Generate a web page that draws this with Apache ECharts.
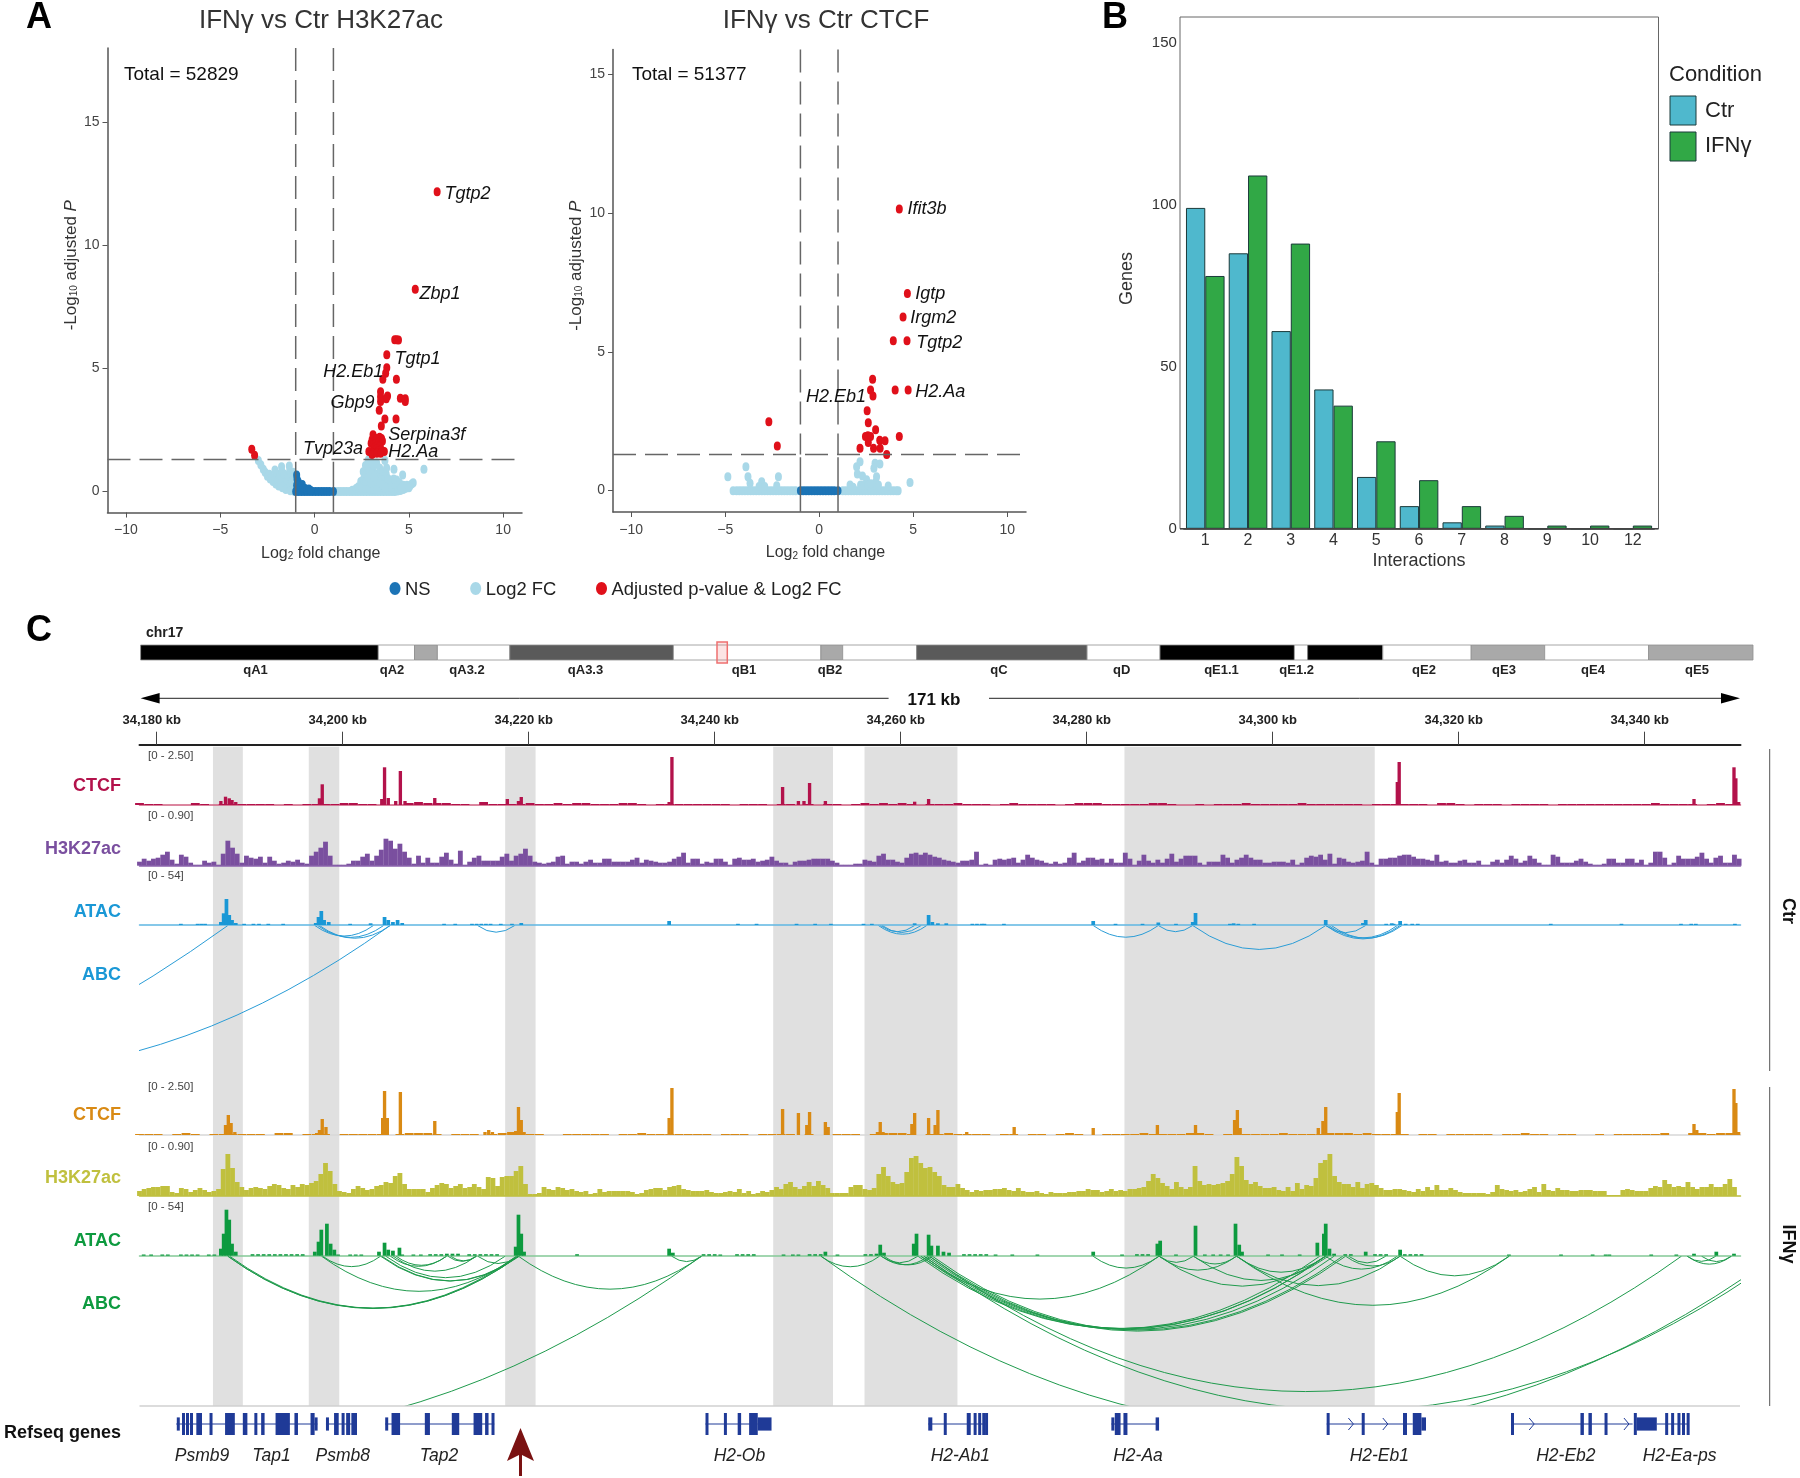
<!DOCTYPE html>
<html>
<head>
<meta charset="utf-8">
<title>Figure</title>
<script src="https://cdn.jsdelivr.net/npm/echarts@6/dist/echarts.min.js"></script>
<style>
html,body{margin:0;padding:0;background:#fff;}
#main{width:1800px;height:1478px;}
</style>
</head>
<body>
<div id="main"></div>
<script>
/* ---------- A: volcano data [log2FC, -log10 padj] ---------- */
var h3LightPts = [[-2.98,1.25],[-2.85,1.08],[-2.72,0.9],[-2.62,0.78],[-2.5,0.62],[-2.4,0.7],[-2.35,0.5],[-2.25,0.55],[-2.2,0.4],[-2.1,0.87],[-2.1,0.6],[-2.05,0.3],[-2,0.72],[-1.95,0.45],[-1.9,0.22],[-1.85,0.6],[-1.8,0.35],[-1.75,1.0],[-1.72,0.8],[-1.7,0.15],[-1.65,0.5],[-1.6,0.7],[-1.55,0.28],[-1.52,0.08],[-1.45,0.45],[-1.4,0.62],[-1.34,1.03],[-1.32,0.82],[-1.3,0.2],[-1.28,0.03],[-1.25,0.62],[-1.2,0.42],[-1.15,0.78],[-1.12,0.02],[-1.1,0.25],[-1.05,0.55],[-1.02,0.03],
  [1.1,0],[1.25,0],[1.4,0],[1.55,0],[1.7,0],[1.85,0],[2,0],[2.15,0],[2.3,0],[2.45,0],[2.6,0],[2.75,0],[2.9,0],[3.05,0],[3.2,0],[3.35,0],[3.5,0],[3.65,0],[3.8,0],[3.95,0],[4.1,0],[4.25,0],[4.4,0.02],[4.55,0.04],[4.7,0.08],[4.9,0.15],[5.05,0.22],[5.15,0.3],[5.23,0.35],
  [2.0,0.05],[2.2,0.12],[2.32,0.19],[2.45,0.4],[2.58,0.8],[2.6,0.5],[2.7,1.05],[2.75,0.7],[2.8,0.3],[2.85,1.27],[2.9,0.9],[2.95,0.55],[3.0,1.15],[3.05,0.2],[3.1,0.8],[3.15,1.05],[3.2,0.45],[3.29,1.15],[3.3,0.7],[3.4,0.25],[3.45,0.95],[3.5,0.55],[3.6,0.8],[3.62,0.15],[3.7,0.4],[3.73,1.25],[3.8,0.7],[3.82,0.95],[3.9,0.2],[4,0.46],[4.05,0.15],[4.21,0.9],[4.35,0.46],[4.4,0.12],[4.5,0.2],[4.67,0.67],[4.5,0.08],[5.8,0.9],[2.5,0.15],[2.7,0.12],[2.9,0.1],[3.1,0.1],[3.3,0.1],[3.6,0.45],[2.7,0.4],[2.85,0.6],[3.0,0.35],[3.15,0.6],[3.3,0.4],[3.45,0.35],[3.6,0.25],[3.75,0.15],
  [4.1,0.3],[4.25,0.3],[4.5,0.35],[4.7,0.25],[4.9,0.25],[4.2,0.5],[4.6,0.15],[3.9,0.5],[4.8,0.12],[5,0.15]];
var h3NsPts = [[-1,0],[-0.85,0],[-0.7,0],[-0.55,0],[-0.4,0],[-0.25,0],[-0.1,0],[0.05,0],[0.2,0],[0.35,0],[0.5,0],[0.65,0],[0.8,0],[1,0],[-0.95,0.67],[-0.93,0.5],[-0.87,0.4],[-0.95,0.25],[-0.8,0.28],[-0.75,0.2],[-0.65,0.28],[-0.6,0.15],[-0.5,0.12],[-0.4,0.08],[-0.3,0.1],[-0.2,0.04]];
var h3SigPts = [[6.5,12.16],[5.34,8.2],[4.25,6.16],[4.35,6.16],[4.45,6.14],[3.83,5.55],[3.83,5.02],[3.77,4.8],[3.62,4.55],[4.34,4.55],[3.5,4.04],[3.5,3.84],[3.87,3.87],[3.8,3.76],[3.5,3.65],[4.55,3.78],[4.81,3.76],[4.81,3.65],[3.43,3.29],[3.73,2.94],[4.32,2.94],[3.54,2.65],
  [3.1,2.3],[3.15,2.2],[3.05,2.1],[3.2,2.05],[3.3,2.15],[3.45,2.2],[3.55,2.15],[3.0,1.95],[3.12,1.9],[3.25,1.95],[3.4,2.0],[3.5,1.95],[3.6,2.05],[3.2,1.8],[3.35,1.85],[3.45,1.8],[3.15,1.7],[3.3,1.72],[2.88,1.62],[3.0,1.6],[3.1,1.55],[3.4,1.65],[3.55,1.68],[3.7,1.62],[3.05,1.5],[3.3,1.55],[3.5,1.55],[-3.33,1.71],[-3.18,1.47]];
var ctcfLightPts = [[-4.58,0],[-4.4,0],[-4.25,0],[-4.1,0],[-3.95,0],[-3.8,0],[-3.65,0],[-3.5,0],[-3.35,0],[-3.2,0],[-3.05,0],[-2.9,0],[-2.75,0],[-2.6,0],[-2.45,0],[-2.3,0],[-2.15,0],[-2,0],[-1.85,0],[-1.7,0],[-1.55,0],[-1.4,0],[-1.25,0],[1.25,0],[1.4,0],[1.55,0],[1.7,0],[1.85,0],[2,0],[2.15,0],[2.3,0],[2.45,0],[2.6,0],[2.75,0],[2.9,0],[3.05,0],[3.2,0],[3.35,0],[3.5,0],[3.65,0],[3.8,0],[3.95,0],[4.1,0],[4.2,0],
  [-4.86,0.5],[-3.9,0.86],[-3.79,0.5],[-3.68,0.27],[-3.06,0.32],[-3.2,0.15],[-2.9,0.15],[-2.17,0.5],[-2.26,0.18],[2.17,1.04],[1.99,0.86],[2.03,0.6],[2.3,0.53],[2.97,0.99],[3.23,0.96],[2.91,0.81],[3.05,0.5],[2.52,0.39],[2.2,0.2],[2.9,0.2],[3.0,0.3],[3.67,0.17],[4.83,0.29],[1.64,0.2],[2.4,0.2],[2.6,0.2],[2.75,0.25],[3.15,0.2],[1.8,0.12]];
var ctcfNsPts = [[-1,0],[-0.85,0],[-0.7,0],[-0.55,0],[-0.4,0],[-0.25,0],[-0.1,0],[0.05,0],[0.2,0],[0.35,0],[0.5,0],[0.65,0],[0.8,0],[1,0]];
var ctcfSigPts = [[4.26,10.15],[4.69,7.1],[4.46,6.26],[3.94,5.4],[4.67,5.4],[2.84,4.01],[2.73,3.63],[2.86,3.41],[4.04,3.63],[4.73,3.63],[2.55,2.88],[2.61,2.45],[3.0,2.19],[2.46,1.95],[2.59,1.98],[2.73,1.95],[2.61,1.73],[3.22,1.82],[3.5,1.8],[4.26,1.95],[2.17,1.53],[2.89,1.53],[3.24,1.53],[3.59,1.3],[-2.68,2.48],[-2.23,1.61]];
var fcCut = [-1, 1];
var padjCut = 1.3;
var xTicks = [-10, -5, 0, 5, 10];
var h3YTicks = [0, 5, 10, 15];

/* ---------- B: genes per number of interactions ---------- */
var interactions = ['1','2','3','4','5','6','7','8','9','10','12'];
var ctrGenes = [99,85,61,43,16,7,2,1,0,0,0];
var ifnGenes = [78,109,88,38,27,15,7,4,1,1,1];
var geneTicks = [0, 50, 100, 150];

/* ---------- C: browser tracks. x = kb after 34,180 kb, heights in track units (0-55) ---------- */
var kbOrigin = 34180;
var kbTicks = [34180,34200,34220,34240,34260,34280,34300,34320,34340];
var shadeBands = [[6.05,9.26],[16.35,19.63],[37.47,40.74],[66.29,72.72],[76.11,86.1],[104.06,130.97]];
var bandEdges = [0,237.7,273.9,296.8,369.2,532.8,680.3,702.1,776,946.5,1019.4,1153.8,1167,1242.2,1330.6,1404.1,1508,1612.4];
var bandStains = ['k','w','g','w','d','w','g','w','d','w','k','w','k','w','g','w','g'];

// H3K27ac, 0.5 kb bins from -1.85 kb
var h3Ctr = [4,7,5,7,8,11,14,6,2,11,9,3,1,1,5,3,4,1,12,25,
 18,12,3,10,8,7,9,3,9,5,2,3,5,4,6,3,2,10,14,18,
 24,10,1,1,1,2,5,5,9,12,5,10,16,27,25,17,22,14,8,2,
 10,3,8,3,3,9,13,6,2,15,1,4,8,10,5,5,5,5,9,12,
 5,10,12,17,10,4,3,2,3,4,9,10,2,4,4,2,4,6,3,3,
 7,7,4,4,4,4,6,8,3,6,5,4,3,3,4,7,9,13,3,7,
 7,2,4,3,7,7,4,1,7,8,6,6,7,4,5,6,9,5,3,3,
 1,4,5,5,6,7,7,7,7,5,3,1,1,1,2,2,6,5,4,10,
 12,6,6,4,3,8,12,13,11,13,11,9,8,6,5,4,3,5,5,6,
 14,1,2,1,6,7,6,7,8,3,6,11,8,6,5,3,2,4,2,3,
 8,13,3,5,8,8,6,7,3,7,3,3,13,7,1,5,11,5,3,6,
 3,7,12,4,7,10,10,10,3,1,4,4,4,11,8,3,6,8,11,8,
 6,6,3,3,4,4,4,3,6,1,3,8,10,9,11,6,12,2,8,7,
 4,3,4,5,14,3,1,7,7,8,8,10,11,11,9,7,7,6,5,11,
 4,5,3,3,5,6,3,3,5,1,1,4,6,3,6,10,7,3,5,10,
 7,3,1,1,11,9,3,3,3,5,7,4,2,1,1,2,7,7,3,3,
 7,7,3,6,1,3,14,14,8,1,3,10,7,7,7,9,13,7,3,8,
 10,3,3,11,7];
var h3Ifn = [5,7,8,9,9,10,10,4,3,8,7,4,6,8,6,4,5,7,27,42,
 28,14,9,6,8,9,8,7,10,12,11,8,7,11,9,12,11,13,15,22,
 33,25,12,5,4,3,7,10,8,6,7,10,11,14,13,20,23,12,7,7,
 7,7,4,8,11,13,12,8,10,12,8,9,12,9,7,19,18,10,19,20,
 20,25,30,12,2,2,3,9,7,6,9,8,6,7,5,4,5,2,3,7,
 4,5,5,5,5,5,4,2,3,6,7,8,8,6,9,10,11,7,6,5,
 5,5,6,4,3,3,4,5,4,7,3,5,2,3,5,4,6,9,7,12,
 14,9,7,10,14,10,15,11,8,3,3,3,3,9,11,11,7,6,8,22,
 29,20,14,12,13,24,38,40,33,28,29,24,20,11,9,9,12,8,6,4,
 6,5,6,6,7,7,8,6,5,8,5,4,4,5,3,2,4,3,3,3,
 4,4,5,5,7,6,6,4,5,7,5,6,5,7,7,8,9,15,22,18,
 13,10,7,14,9,7,9,30,15,11,12,11,12,13,15,22,39,30,16,12,
 14,10,8,8,9,6,5,9,5,13,7,11,10,18,33,36,42,20,14,12,
 12,9,14,8,12,13,11,8,6,6,7,7,6,5,4,7,5,9,6,11,
 6,6,8,6,4,3,3,3,3,3,2,4,11,7,6,5,6,4,5,7,
 9,4,12,6,5,8,6,6,5,5,6,6,6,5,5,5,1,1,1,6,
 7,6,5,5,5,8,10,9,16,12,9,10,9,14,9,7,9,9,12,9,
 9,12,17,9];

// CTCF background, 1 kb bins from -1.85 kb
var ctcfCtrBg = [2,1,1,0,0,0,2,1,0,1,1,1,1,1,1,0,1,0,1,1,
 1,1,2,2,1,1,0,0,0,2,3,2,2,2,1,1,0,3,1,1,
 1,1,2,1,1,2,1,2,2,1,1,1,2,2,1,0,1,1,1,1,
 1,1,1,1,0,1,1,1,0,1,1,0,1,0,1,1,0,1,2,1,
 2,1,2,1,0,1,1,1,2,1,1,1,0,1,2,1,1,1,1,0,
 1,2,2,2,1,1,1,1,1,2,2,1,0,0,1,0,1,1,1,2,
 1,1,1,1,1,2,1,1,1,1,1,1,0,1,1,1,1,1,1,0,
 2,2,1,0,1,1,1,0,1,1,1,1,0,1,1,1,1,1,1,1,
 1,1,1,2,1,1,1,1,0,1,2,1];
var ctcfIfnBg = [1,1,1,0,1,2,1,0,1,1,1,1,1,1,0,2,2,0,1,1,
 1,0,1,1,1,1,1,0,1,2,2,2,1,0,1,1,1,0,1,2,
 3,2,1,1,0,0,1,1,1,1,1,0,1,1,2,1,1,1,1,1,
 1,1,0,1,1,1,0,1,1,1,1,0,1,0,0,1,1,1,0,1,
 2,2,2,1,0,1,1,2,1,1,1,1,0,1,1,0,1,1,0,1,
 2,1,0,0,1,1,1,1,2,1,1,1,1,2,2,1,0,1,1,1,
 1,1,1,2,1,1,1,1,2,2,2,1,2,1,1,1,1,0,1,1,
 0,1,1,1,1,1,0,1,1,2,1,1,0,1,1,0,0,1,0,1,
 1,1,1,1,2,0,0,2,2,1,2,2];

// peaks: [kb, height]
var ctcfCtrPeaks = [[6.9,4],[7.4,8.3],[7.8,6.7],[8.1,5],[8.5,3],[17.5,6.7],[17.8,20.7],[24.2,6],[24.5,37.7],[24.9,7],[25.7,4],[26.2,34],[26.7,4],[29.9,7],[37.7,6],[38.9,4],[39.2,8],[55.1,3],[55.4,48],[67.3,18],[69,4],[69.6,4],[70.2,22],[71.9,4],[81.5,3.3],[83,6],[133.4,23],[133.6,43],[165.3,6],[169.6,37.7],[169.8,26.7],[170.1,3]];
var ctcfIfnPeaks = [[7.4,10],[7.7,20],[8,12],[8.4,3],[17.2,2],[17.5,5],[17.8,16],[18.2,8],[24.3,17],[24.5,44],[24.8,17],[26.2,43],[29.9,14],[35.3,3],[35.7,5],[36.1,3],[38.6,4],[38.9,28],[39.2,15],[39.5,3],[55.1,17],[55.4,47],[67.3,26],[69,22],[69.9,10],[70.2,23],[71.9,13],[72.2,8],[77.5,3],[77.8,13],[78.1,3],[81.2,11],[81.5,22],[83,17],[83.7,10],[84,25],[87.1,3],[92.2,8],[100.7,7],[107.6,10],[111.7,10],[115.9,15],[116.2,25],[116.5,7],[124.9,7],[125.4,14],[125.7,28],[133.4,23],[133.6,42],[165.3,11],[165.6,5],[169.6,46],[169.8,32],[170.1,3]];
var ataCtrPeaks = [[6.9,3],[7.2,11.7],[7.5,26],[7.8,10],[8.1,5],[8.5,2],[17.1,2],[17.4,8],[17.7,14],[18,5],[18.5,3],[23,1.7],[24.5,8],[24.9,5],[25.4,3],[25.9,5],[26.4,2],[39.2,2],[55.1,4],[81.5,1.7],[83,10],[83.4,3],[84,1.7],[84.9,1.7],[100.7,4],[107.7,2.5],[111.4,3],[111.7,12],[115.8,1.7],[125.7,5],[129.7,2],[130,5],[132.8,1.7],[133.7,4]];
var ataIfnPeaks = [[6.9,7],[7.2,22],[7.5,46],[7.8,36],[8.1,12],[8.5,4],[17,4],[17.4,14],[17.7,26],[18.3,32],[18.7,12],[19.1,6],[23.9,4],[24.5,13],[24.9,6],[25.4,5],[26.1,8],[38.6,9],[38.9,41],[39.2,22],[39.5,4],[55.1,7],[55.5,3],[71.9,4],[77.4,2],[77.8,11],[78.2,3],[81.4,12],[81.7,22],[83,21],[83.3,10],[84,10],[84.6,4],[85.2,3],[100.7,4],[107.6,12],[107.9,15],[111.7,30],[116,32],[116.4,11],[116.7,4],[124.8,13],[125.5,22],[125.7,32],[126.1,7],[126.6,2],[130,4],[133.7,6],[165.3,2],[167.7,4],[169.6,2]];

// low ATAC ticks: [kb, height]
var ataCtrLow = [[4.4,1.2],[4.8,1.2],[5.2,1.2],[2.6,1.2],[9.4,1.2],[10.4,1.2],[11,1.2],[12,1.2],[13.6,1.2],[20.8,1.2],[30.9,1.2],[32.1,1.2],[33.9,1.2],[34.4,1.2],[34.9,1.2],[35.4,1.2],[35.9,1.2],[37,1.2],[38.2,1.2],[62.5,1.2],[64.5,1.2],[68.8,1.2],[70.8,1.2],[72.5,1.2],[76,1.2],[76.9,1.2],[87.7,1.2],[88.2,1.2],[88.7,1.2],[89,1.2],[91.1,1.2],[103.1,1.2],[106,1.2],[109.6,1.2],[115.4,1.2],[116.3,1.2],[118,1.2],[132.2,1.2],[133,1.2],[134.3,1.2],[135,1.2],[135.6,1.2],[149.9,1.2],[157.5,1.2],[163.9,1.2],[165,1.2],[165.5,1.2],[169.7,1.2]];
var ataIfnLow = [[-1.4,1.2],[-0.6,1.2],[0.6,1.2],[1.2,1.2],[2.6,1.2],[3.2,1.2],[3.8,1.2],[4.4,1.2],[5.6,1.2],[6.2,1.2],[10.3,1.5],[10.9,1.5],[11.5,1.5],[12.1,1.5],[12.7,1.5],[13.3,1.5],[13.9,1.5],[14.5,1.5],[15.1,1.5],[15.7,1.5],[19.5,1.2],[20.8,1.2],[21.4,1.2],[22,1.2],[26.4,1.2],[27.6,1.2],[28.4,1.2],[29.4,1.5],[30,1.5],[30.6,1.5],[31.2,2],[31.8,2],[32.4,2],[33.6,1.5],[34.2,1.5],[34.8,1.5],[35.4,1.5],[36,1.5],[36.6,1.5],[45.2,1.5],[58.8,1.5],[59.4,1.5],[60,1.5],[60.6,1.2],[62.4,1.5],[63,1.5],[63.6,1.5],[64.2,1.5],[67.4,1.2],[68.4,1.2],[69,1.2],[70.2,1.5],[70.8,1.5],[71.4,1.5],[73.2,1.2],[76.2,1.5],[76.8,1.5],[86.8,1.5],[87.4,1.5],[88,1.5],[88.6,1.5],[89.2,1.5],[90.2,1.2],[92,1.2],[94.7,1.2],[103.8,1.2],[105.4,1.5],[106,1.5],[106.6,1.5],[109.6,1.2],[112.7,1.2],[113.6,1.2],[114.4,1.2],[115.2,1.2],[119.5,1.2],[121,1.2],[122.9,1.2],[127.8,1.5],[128.4,1.5],[131,1.5],[131.6,1.5],[132.2,1.5],[134.2,1.5],[134.8,1.5],[135.4,1.5],[136,1.5],[145.4,1.2],[151,1.2],[154.4,1.2],[155.8,1.2],[156.2,1.2],[160.7,1.2],[163.4,1.2]];

// ABC loops, [left kb, right kb]. Two in each panel run off the left or the right edge
var abcCtr = [[-121,7.65],[-62.7,25.1],[17,23.3],[17.3,24.4],[17.5,25.1],[34.5,38.5],[77.6,82.8],[77.8,81.5],[78,82.2],[100.7,107.7],[107.7,111.4],[111.4,125.7],[125.7,130],[125.7,133.7],[126,133.4],[126.3,133.9]];
var abcIfn = [[7.65,38.7],[7.65,38.89],[7.84,38.89],[17.72,38.7],[17.84,24.07],[24.07,38.89],[24.2,39.01],[24.63,37.47],[25.43,34.38],[25.12,31.17],[25.74,31.17],[31.3,34.38],[31.6,34.38],[34.51,38.89],[38.89,58.58],[55.37,58.58],[-49,58.58],[71.42,77.72],[71.42,174],
 [77.9,81.85],[77.9,83],[78.2,83.4],[82.16,107.78],[100.68,107.78],[81.85,125.06],[82.16,125.68],[82.47,125.68],[82.78,126.6],[83.09,127.84],[83.4,127.53],[83.09,163.95],[82.5,174.6],[107.78,111.48],[107.78,116.11],[107.78,125.68],[111.48,116.11],[111.48,125.99],[116.11,125.68],[116.11,133.7],[116.11,145.43],[125.68,133.4],[127.84,133.7],[128.15,132.16],[133.7,145.43],[164.57,169.32],[164.57,167.65],[166.11,169.32]];

// Refseq: introns [from, to], exons [from, to, kind] kind 2 coding, 1 UTR
var geneIntrons = [[2.1,17.28],[18.2,21.54],[24.57,36.3],[59,64.6],[82.96,89.38],[102.65,107.78],[125.8,135.06],[145.62,158.7],[161.3,164.69]];
var geneExons = [[2.16,2.47,1],[2.72,2.9,2],[3.15,3.33,2],[3.58,3.83,2],[4.26,4.43,2],[4.55,4.69,2],[5.68,5.93,2],[7.35,8.4,2],[9.26,9.75,2],[10.5,10.74,2],[11.23,11.6,2],[12.78,14.32,2],[14.81,15.19,2],[16.54,16.98,2],[16.98,17.28,1],[18.2,18.52,1],[19.07,19.57,2],[19.88,20.19,2],[20.37,20.8,2],[20.93,21.54,2],
 [24.57,24.81,1],[25.25,26.17,2],[28.83,29.38,2],[31.73,32.53,2],[34.07,35,2],[35.31,35.68,2],[36,36.3,2],
 [59.01,59.26,2],[60.99,61.3,2],[62.47,62.84,2],[63.7,64.63,2],[64.63,66.11,1],
 [82.96,83.4,1],[84.63,84.94,2],[87.1,87.53,2],[87.84,88.09,2],[88.33,88.58,2],[88.77,89.01,2],[89.07,89.38,2],
 [102.65,102.9,1],[103.02,103.64,2],[103.95,104.38,2],[107.41,107.78,1],
 [125.8,126.11,2],[129.57,129.88,2],[134.01,134.44,2],[135.06,135.99,2],[135.99,136.48,1],
 [145.62,145.93,2],[153.09,153.46,2],[153.95,154.32,2],[155.68,155.99,2],
 [158.83,159.14,2],[159.14,161.3,1],[162.2,162.41,2],[162.84,163.15,2],[163.52,163.77,2],[164.01,164.26,2],[164.51,164.69,2]];
var geneChevrons = [128.46,132.16,147.9,158.09];

/* ---------- layout helpers ---------- */
var FONT = '"Liberation Sans", Arial, sans-serif';
var chart = echarts.init(document.getElementById('main'), null, {renderer: 'canvas'});
var grids = [], xAxes = [], yAxes = [], series = [], graphics = [];

function T(str, x, y, opt) {
    opt = opt || {};
    graphics.push({
        type: 'text', x: x, y: y, rotation: opt.rot || 0, z: 50, silent: true,
        style: {
            text: str, x: 0, y: 0,
            font: (opt.italic ? 'italic ' : '') + (opt.bold ? 'bold ' : '') + (opt.size || 14) + 'px ' + FONT,
            fill: opt.color || '#222',
            align: opt.align || 'left', verticalAlign: 'middle'
        }
    });
}
function addGrid(l, t, w, h, xa, ya) {
    var i = grids.length;
    grids.push({left: l, top: t, width: w, height: h, containLabel: false});
    xa.gridIndex = i; ya.gridIndex = i;
    xAxes.push(xa); yAxes.push(ya);
    return i;
}

/* ---------- A: volcano plots ---------- */
function volcano(box, xr, yr, yTicks, light, ns, sig) {
    var axisC = '#555';
    var i = addGrid(box[0], box[1], box[2], box[3], {
        type: 'value', min: xr[0], max: xr[1], splitLine: {show: false},
        axisLine: {lineStyle: {color: axisC, width: 1.5}, onZero: false},
        axisTick: {customValues: xTicks, length: 5, lineStyle: {color: axisC}},
        axisLabel: {customValues: xTicks, color: '#444', fontSize: 14, fontFamily: FONT, margin: 11,
            formatter: function (v) { return String(v).replace('-', '\u2212'); }},
        name: '{a|Log}{s|2}{a| fold change}', nameLocation: 'middle', nameGap: 33, nameMoveOverlap: false,
        nameTextStyle: {padding: [0, 0, 0, 12], rich: {a: {fontSize: 16, color: '#333', fontFamily: FONT}, s: {fontSize: 10, color: '#333', fontFamily: FONT, verticalAlign: 'bottom', padding: [6, 0, 0, 0]}}}
    }, {
        type: 'value', min: yr[0], max: yr[1], splitLine: {show: false},
        axisLine: {lineStyle: {color: axisC, width: 1.5}, onZero: false},
        axisTick: {customValues: yTicks, length: 5, lineStyle: {color: axisC}},
        axisLabel: {customValues: yTicks, color: '#444', fontSize: 14, fontFamily: FONT, margin: 8},
        name: '{a|-Log}{s|10}{a| adjusted }{i|P}', nameLocation: 'middle', nameGap: 28, nameMoveOverlap: false,
        nameTextStyle: {padding: [0, 0, 0, 30], rich: {a: {fontSize: 17, color: '#333', fontFamily: FONT}, s: {fontSize: 10, color: '#333', fontFamily: FONT, padding: [6, 0, 0, 0]}, i: {fontSize: 17, color: '#333', fontStyle: 'italic', fontFamily: FONT}}}
    });
    function pts(data, color, z) {
        series.push({type: 'scatter', xAxisIndex: i, yAxisIndex: i, data: data, symbol: 'circle', symbolSize: [7, 9],
            itemStyle: {color: color, opacity: 1}, z: z, silent: true});
    }
    pts(light, '#a9d8e8', 3);
    pts(ns, '#1c74b6', 4);
    pts(sig, '#e0101a', 5);
    function rule(data, dash) {
        series.push({type: 'line', xAxisIndex: i, yAxisIndex: i, data: data, showSymbol: false, silent: true, z: 6,
            lineStyle: {color: '#666', width: 1.5, type: dash}});
    }
    fcCut.forEach(function (c) {
        rule([[c, yr[1]], [c, padjCut]], [23, 9]);
        rule([[c, padjCut - 0.1], [c, yr[0]]], 'solid');
    });
    rule([[xr[0], padjCut], [xr[1], padjCut]], [23, 9]);
}
volcano([107.5, 47.9, 414.5, 464.6], [-10.98, 11], [-0.856, 18], h3YTicks, h3LightPts, h3NsPts, h3SigPts);
volcano([613, 49.4, 413, 462.6], [-10.97, 11], [-0.77, 15.9], h3YTicks, ctcfLightPts, ctcfNsPts, ctcfSigPts);

T('A', 26, 18, {bold: true, size: 36, color: '#000'});
T('IFN\u03b3 vs Ctr H3K27ac', 321, 21, {size: 26, color: '#333', align: 'center'});
T('IFN\u03b3 vs Ctr CTCF', 826, 21, {size: 26, color: '#333', align: 'center'});
T('Total = 52829', 124, 75, {size: 19, color: '#111'});
T('Total = 51377', 632, 75, {size: 19, color: '#111'});
var geneTagOpt = {italic: true, size: 18, color: '#111'};
[['Tgtp2',444.6,192.6],['Zbp1',419.6,292.6],['Tgtp1',394.6,358],['H2.Eb1',323.2,370.8],['Gbp9',330.4,402],['Serpina3f',388.2,434.2],['Tvp23a',302.9,448.2],['H2.Aa',388.2,451.4],
 ['Ifit3b',907.5,207.8],['Igtp',915.3,292.6],['Irgm2',910.2,317],['Tgtp2',916.3,341.6],['H2.Aa',915.3,391],['H2.Eb1',806,395.7]].forEach(function (t) {
    T(t[0], t[1], t[2] + 1, geneTagOpt);
});
// shared legend under A
[['NS',395,'#1c74b6'],['Log2 FC',475.7,'#a9d8e8'],['Adjusted p-value & Log2 FC',601.5,'#e0101a']].forEach(function (l) {
    graphics.push({type: 'ellipse', shape: {cx: l[1], cy: 588.5, rx: 5.5, ry: 6.5}, style: {fill: l[2]}, silent: true});
    T(l[0], l[1] + 10, 590, {size: 18.4, color: '#222'});
});

/* ---------- B: bars ---------- */
var bGrid = addGrid(1183.9, 17, 470.3, 511.8, {
    type: 'category', data: interactions,
    axisLine: {lineStyle: {color: '#333', width: 1.5}}, axisTick: {show: false},
    axisLabel: {color: '#333', fontSize: 16, fontFamily: FONT, margin: 4}
}, {
    type: 'value', min: 0, max: 157.9, splitLine: {show: false}, axisLine: {show: false}, axisTick: {show: false},
    axisLabel: {customValues: geneTicks, color: '#333', fontSize: 15, fontFamily: FONT, margin: 7}
});
function barSeries(vals, color) {
    series.push({type: 'bar', xAxisIndex: bGrid, yAxisIndex: bGrid, data: vals, barWidth: 19.3, barGap: 0, z: 3, silent: true,
        itemStyle: {color: color, borderColor: '#1b3a3a', borderWidth: 1}});
}
barSeries(ctrGenes, '#4fb8cd');
barSeries(ifnGenes, '#31a846');
graphics.push({type: 'rect', shape: {x: 1180, y: 17, width: 478.5, height: 511.8}, style: {fill: 'none', stroke: '#666', lineWidth: 1}, z: 40, silent: true});
graphics.push({type: 'line', shape: {x1: 1180, y1: 528.8, x2: 1658.5, y2: 528.8}, style: {stroke: '#444', lineWidth: 1.5}, z: 41, silent: true});
T('B', 1102, 18, {bold: true, size: 36, color: '#000'});
T('Interactions', 1419, 561, {size: 18, color: '#333', align: 'center'});
T('Genes', 1127, 278.5, {size: 18, color: '#333', align: 'center', rot: Math.PI / 2});
T('Condition', 1669, 75, {size: 22, color: '#222'});
graphics.push({type: 'rect', shape: {x: 1670, y: 96, width: 26, height: 29}, style: {fill: '#4fb8cd', stroke: '#1b3a3a', lineWidth: 1}, silent: true});
graphics.push({type: 'rect', shape: {x: 1670, y: 132, width: 26, height: 29}, style: {fill: '#31a846', stroke: '#1b3a3a', lineWidth: 1}, silent: true});
T('Ctr', 1705, 111, {size: 22, color: '#222'});
T('IFN\u03b3', 1705, 146, {size: 22, color: '#222'});

/* ---------- C: ideogram ---------- */
var stainColors = {k: '#000', d: '#5a5a5a', g: '#a9a9a9', w: '#fff'};
var ideo = addGrid(140.6, 645, 1612.4, 15, {type: 'value', min: 0, max: 1612.4, show: false}, {type: 'value', min: 0, max: 1, show: false});
series.push({
    type: 'custom', xAxisIndex: ideo, yAxisIndex: ideo, silent: true, z: 3,
    data: bandStains.map(function (s, i) { return [bandEdges[i], bandEdges[i + 1], i]; }),
    encode: {x: [0, 1]},
    renderItem: function (p, api) {
        var a = api.coord([api.value(0), 1]), b = api.coord([api.value(1), 0]);
        return {type: 'rect', shape: {x: a[0], y: a[1], width: b[0] - a[0], height: b[1] - a[1]},
            style: {fill: stainColors[bandStains[api.value(2)]], stroke: '#8f8f8f', lineWidth: 0.8}};
    }
});
T('C', 26, 631, {bold: true, size: 36, color: '#000'});
T('chr17', 146, 633, {bold: true, size: 14, color: '#222'});
[['qA1',255.5],['qA2',392],['qA3.2',467],['qA3.3',585.5],['qB1',744],['qB2',830],['qC',999],['qD',1121.6],['qE1.1',1221.5],['qE1.2',1296.7],['qE2',1424],['qE3',1504],['qE4',1593],['qE5',1697]].forEach(function (q) {
    T(q[0], q[1], 670, {bold: true, size: 13, color: '#222', align: 'center'});
});
graphics.push({type: 'rect', shape: {x: 717, y: 642, width: 10.3, height: 21}, style: {fill: 'rgba(240,120,120,0.2)', stroke: '#ee7070', lineWidth: 1.5}, z: 30, silent: true});
// 171 kb span arrow
graphics.push({type: 'line', shape: {x1: 150, y1: 698.3, x2: 888.6, y2: 698.3}, style: {stroke: '#222', lineWidth: 1}, silent: true});
graphics.push({type: 'line', shape: {x1: 989, y1: 698.3, x2: 1730, y2: 698.3}, style: {stroke: '#222', lineWidth: 1}, silent: true});
graphics.push({type: 'polygon', shape: {points: [[140.6, 698.3], [159.6, 693], [159.6, 703.6]]}, style: {fill: '#000'}, silent: true});
graphics.push({type: 'polygon', shape: {points: [[1740, 698.3], [1721, 693], [1721, 703.6]]}, style: {fill: '#000'}, silent: true});
T('171 kb', 934, 700, {bold: true, size: 17, color: '#111', align: 'center'});

/* ---------- C: genome axis, shading and tracks ---------- */
var kbMin = -1.85, kbMax = 170.3;
var trackLeft = 139.5, trackWidth = 1601;
function kbAxis(extra) {
    var a = {type: 'value', min: kbOrigin + kbMin, max: kbOrigin + kbMax, show: false, splitLine: {show: false}};
    for (var k in (extra || {})) a[k] = extra[k];
    return a;
}
function hiddenY(lo, hi, inv) { return {type: 'value', min: lo, max: hi, show: false, inverse: !!inv, splitLine: {show: false}}; }

addGrid(trackLeft, 744.7, trackWidth, 1, kbAxis({
    show: true, position: 'top',
    axisLine: {show: true, onZero: false, lineStyle: {color: '#222', width: 2}},
    axisTick: {customValues: kbTicks, length: 13, lineStyle: {color: '#444', width: 1}},
    axisLabel: {customValues: kbTicks, fontSize: 13, fontWeight: 'bold', color: '#222', fontFamily: FONT, margin: 18, padding: [0, 10, 0, 0],
        formatter: function (v) { return String(v).replace(/(\d\d)(\d{3})$/, '$1,$2') + ' kb'; }}
}), hiddenY(0, 1));

var shadeGrid = addGrid(trackLeft, 746.7, trackWidth, 659.3, kbAxis(), hiddenY(0, 1));
series.push({
    type: 'custom', xAxisIndex: shadeGrid, yAxisIndex: shadeGrid, silent: true, z: 0,
    data: shadeBands, encode: {x: [0, 1]},
    renderItem: function (p, api) {
        var a = api.coord([kbOrigin + api.value(0), 1]), b = api.coord([kbOrigin + api.value(1), 0]);
        return {type: 'rect', shape: {x: a[0], y: a[1], width: b[0] - a[0], height: b[1] - a[1]}, style: {fill: '#e0e0e0'}};
    }
});

function signal(g, data, widthKb, color) {
    series.push({
        type: 'custom', xAxisIndex: g, yAxisIndex: g, silent: true, z: 4,
        data: data, encode: {x: 0, y: 1},
        renderItem: function (p, api) {
            var kb = kbOrigin + api.value(0);
            var a = api.coord([kb - widthKb / 2, api.value(1)]), b = api.coord([kb + widthKb / 2, 0]);
            return {type: 'rect', shape: {x: a[0], y: a[1], width: b[0] - a[0], height: b[1] - a[1]}, style: {fill: color}};
        }
    });
}
function binned(vals, stepKb) {
    // array index -> [bin centre kb, value], zero bins dropped
    var out = [];
    vals.forEach(function (v, i) { if (v > 0) out.push([kbMin + stepKb * i, v]); });
    return out;
}
function trackGrid(baseline, lineColor) {
    return addGrid(trackLeft, baseline - 55, trackWidth, 55, kbAxis({
        show: true, axisLine: {show: true, onZero: false, lineStyle: {color: lineColor, width: 1.5}},
        axisTick: {show: false}, axisLabel: {show: false}
    }), hiddenY(0, 55));
}
var gc = trackGrid(805, '#cf5f80');
signal(gc, binned(ctcfCtrBg, 1), 0.95, '#b3124b');
signal(gc, ctcfCtrPeaks, 0.36, '#b3124b');
var gh = trackGrid(865.7, '#8a62ad');
signal(gh, binned(h3Ctr, 0.5), 0.52, '#7a4f9f');
var ga = trackGrid(925, '#5fb6e2');
signal(ga, ataCtrLow, 0.4, '#1a98d6');
signal(ga, ataCtrPeaks, 0.4, '#1a98d6');
var gc2 = trackGrid(1135, '#d8d8d8');
signal(gc2, binned(ctcfIfnBg, 1), 0.95, '#d98a14');
signal(gc2, ctcfIfnPeaks, 0.36, '#d98a14');
var gh2 = trackGrid(1196, '#bcbc3a');
signal(gh2, binned(h3Ifn, 0.5), 0.52, '#c0c03e');
var ga2 = trackGrid(1255.7, '#84c997');
signal(ga2, ataIfnLow, 0.4, '#0d9a3f');
signal(ga2, ataIfnPeaks, 0.4, '#0d9a3f');

function arcs(top, height, data, color) {
    var g = addGrid(trackLeft, top, trackWidth, height, kbAxis(), hiddenY(0, 1, true));
    series.push({
        type: 'custom', xAxisIndex: g, yAxisIndex: g, silent: true, z: 5, clip: true,
        data: data, encode: {x: [0, 1]},
        renderItem: function (p, api) {
            var a = api.coord([kbOrigin + api.value(0), 0]), b = api.coord([kbOrigin + api.value(1), 0]);
            var depth = (b[0] - a[0]) * 0.18;
            return {type: 'bezierCurve',
                shape: {x1: a[0], y1: a[1], x2: b[0], y2: b[1], cpx1: (a[0] + b[0]) / 2, cpy1: a[1] + depth * 2},
                style: {fill: 'none', stroke: color, lineWidth: 1}};
        }
    });
}
arcs(925.5, 155, abcCtr, '#2a9cd6');
arcs(1256.2, 149.8, abcIfn, '#1f9a4c');

// track labels
[['CTCF',786,'#b3124b'],['H3K27ac',849,'#7a4f9f'],['ATAC',912,'#1a98d6'],['ABC',975,'#1a98d6'],
 ['CTCF',1115,'#d98a14'],['H3K27ac',1178,'#c0c03e'],['ATAC',1241,'#0d9a3f'],['ABC',1304,'#0d9a3f'],['Refseq genes',1433,'#111']].forEach(function (l) {
    T(l[0], 121, l[1], {bold: true, size: 18, color: l[2], align: 'right'});
});
[['[0 - 2.50]',756],['[0 - 0.90]',816],['[0 - 54]',876],['[0 - 2.50]',1087],['[0 - 0.90]',1147],['[0 - 54]',1207]].forEach(function (r) {
    T(r[0], 148, r[1], {size: 11.5, color: '#444'});
});
// right hand condition bars
graphics.push({type: 'line', shape: {x1: 1769.7, y1: 749, x2: 1769.7, y2: 1071}, style: {stroke: '#555', lineWidth: 1}, silent: true});
graphics.push({type: 'line', shape: {x1: 1769.7, y1: 1087, x2: 1769.7, y2: 1406}, style: {stroke: '#555', lineWidth: 1}, silent: true});
T('Ctr', 1788, 911, {bold: true, size: 18, color: '#111', align: 'center', rot: -Math.PI / 2});
T('IFN\u03b3', 1788, 1244, {bold: true, size: 18, color: '#111', align: 'center', rot: -Math.PI / 2});

/* ---------- C: genes ---------- */
graphics.push({type: 'line', shape: {x1: 139.5, y1: 1406, x2: 1740, y2: 1406}, style: {stroke: '#d0d0d0', lineWidth: 1.5}, z: 20, silent: true});
var geneGrid = addGrid(trackLeft, 1413, trackWidth, 22, kbAxis(), hiddenY(0, 1));
var geneBlue = '#1f3a97';
series.push({
    type: 'custom', xAxisIndex: geneGrid, yAxisIndex: geneGrid, silent: true, z: 4,
    data: geneIntrons, encode: {x: [0, 1]},
    renderItem: function (p, api) {
        var a = api.coord([kbOrigin + api.value(0), 0.5]), b = api.coord([kbOrigin + api.value(1), 0.5]);
        return {type: 'line', shape: {x1: a[0], y1: a[1], x2: b[0], y2: b[1]}, style: {stroke: geneBlue, lineWidth: 1}};
    }
});
series.push({
    type: 'custom', xAxisIndex: geneGrid, yAxisIndex: geneGrid, silent: true, z: 5,
    data: geneExons, encode: {x: [0, 1]},
    renderItem: function (p, api) {
        var half = api.value(2) === 2 ? 0.5 : 0.3;
        var a = api.coord([kbOrigin + api.value(0), 0.5 + half]), b = api.coord([kbOrigin + api.value(1), 0.5 - half]);
        // very short exons still read about 3 px wide in the browser view
        return {type: 'rect', shape: {x: a[0], y: a[1], width: Math.max(b[0] - a[0], 3), height: b[1] - a[1]}, style: {fill: geneBlue}};
    }
});
series.push({
    type: 'custom', xAxisIndex: geneGrid, yAxisIndex: geneGrid, silent: true, z: 5,
    data: geneChevrons.map(function (k) { return [k]; }), encode: {x: 0},
    renderItem: function (p, api) {
        var c = api.coord([kbOrigin + api.value(0), 0.5]);
        return {type: 'polyline', shape: {points: [[c[0] - 3, c[1] - 6], [c[0] + 2, c[1]], [c[0] - 3, c[1] + 6]]}, style: {fill: 'none', stroke: geneBlue, lineWidth: 1}};
    }
});
[['Psmb9',202],['Tap1',271.5],['Psmb8',342.7],['Tap2',439],['H2-Ob',739.4],['H2-Ab1',960.3],['H2-Aa',1138],['H2-Eb1',1379.3],['H2-Eb2',1565.9],['H2-Ea-ps',1679.6]].forEach(function (g) {
    T(g[0], g[1], 1456, {italic: true, size: 17.5, color: '#222', align: 'center'});
});
// highlight arrow under the tracks
graphics.push({type: 'polygon', shape: {points: [[520.5, 1428], [534, 1461], [522, 1455], [522, 1476], [519, 1476], [519, 1455], [507, 1461]]}, style: {fill: '#7a1212'}, z: 30, silent: true});

chart.setOption({
    animation: false,
    backgroundColor: '#fff',
    textStyle: {fontFamily: FONT},
    grid: grids, xAxis: xAxes, yAxis: yAxes, series: series,
    graphic: {elements: graphics}
});
</script>
</body>
</html>
